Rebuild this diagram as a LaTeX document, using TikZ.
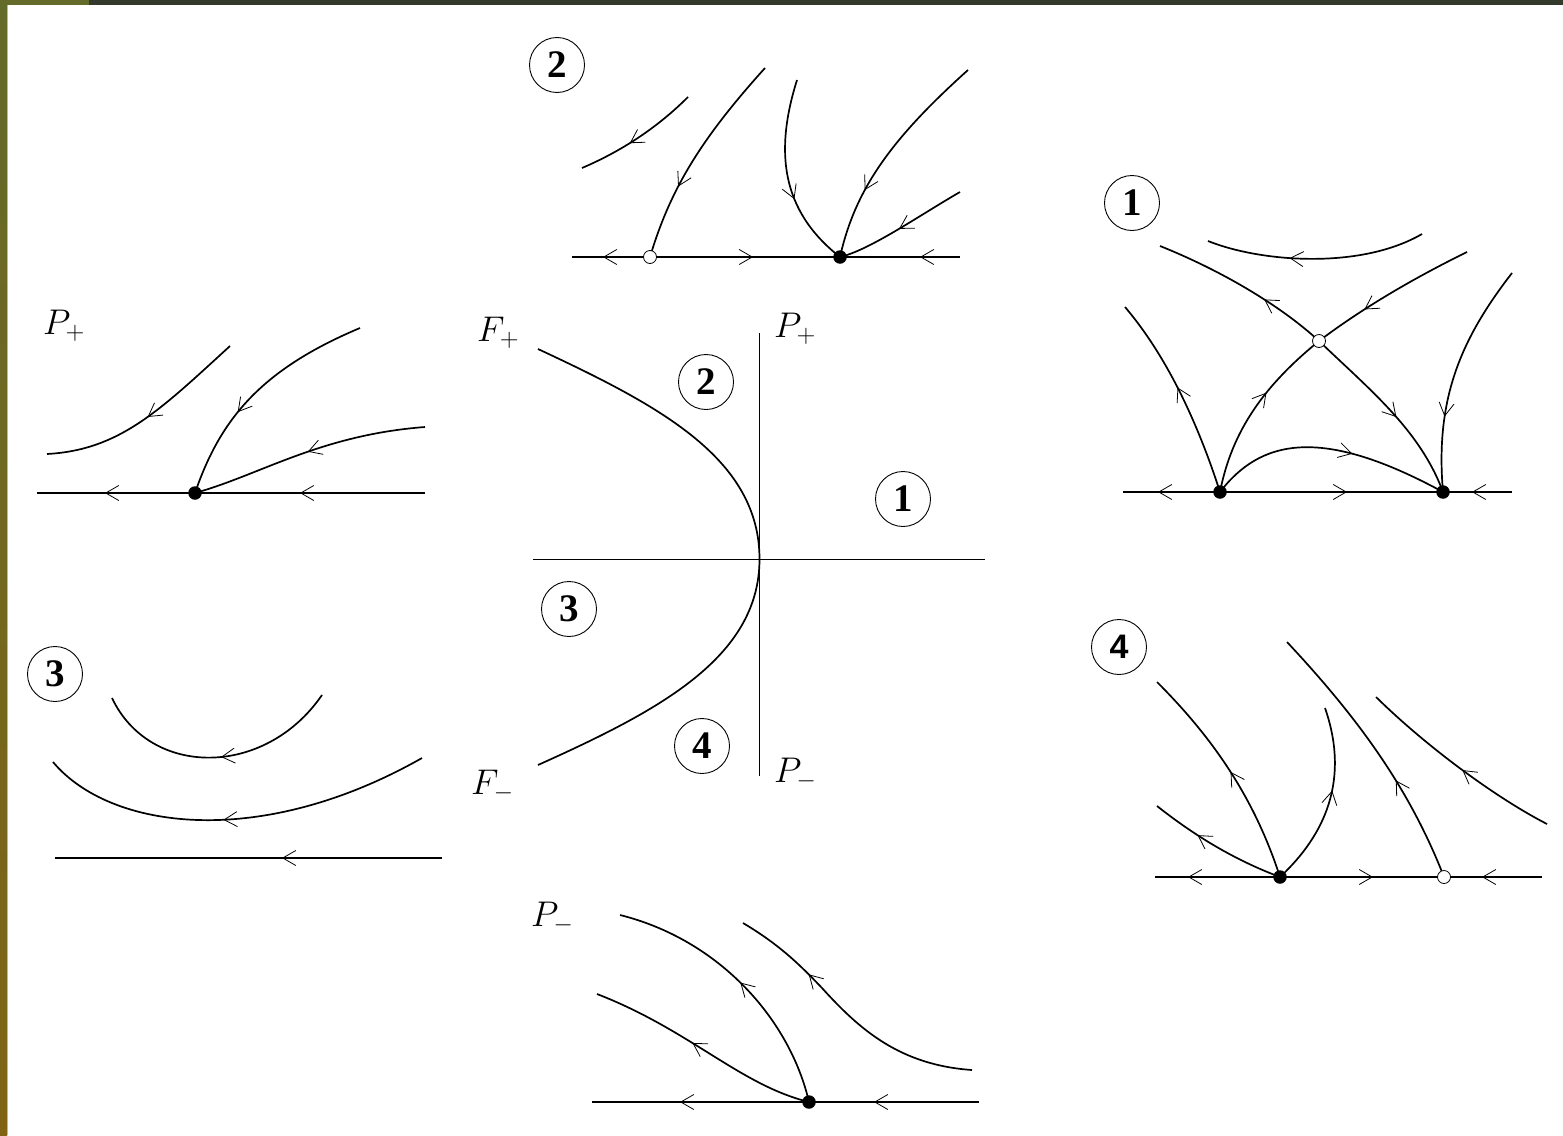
\RequirePackage{fix-cm}
\documentclass[tikz,border=0pt]{standalone}
\usepackage{fontspec}
\usepackage{graphicx}
\newfontfamily\numserif{Liberation Serif}
\newfontfamily\numsans{Liberation Sans}
\usetikzlibrary{arrows.meta,decorations.markings}
\definecolor{olivetop}{RGB}{100,106,42}
\definecolor{darkbar}{RGB}{52,58,43}
\definecolor{ochrebot}{RGB}{128,100,20}
\definecolor{edgelight}{RGB}{190,186,140}
\newcommand\chevF{\arrow{Straight Barb[length=13pt,width=15pt,line width=0.8pt]}}
\newcommand\chevB{\arrowreversed{Straight Barb[length=13pt,width=15pt,line width=0.8pt]}}
\newcommand\bigmath[1]{\scalebox{1.72}{\fontsize{20.74}{24}\selectfont$#1$}}
\tikzset{
  crv/.style={line width=1.7pt},
  hax/.style={line width=1pt},
  vax/.style={line width=1.4pt},
  fwdat/.style={postaction={decorate,decoration={markings,mark=at position #1 with {\chevF}}}},
  bwdat/.style={postaction={decorate,decoration={markings,mark=at position #1 with {\chevB}}}},
  bdot/.style={circle,fill=black,minimum size=13.5pt,inner sep=0pt},
  odot/.style={circle,fill=white,draw=black,line width=0.8pt,minimum size=13pt,inner sep=0pt},
  numlbl/.style={circle,draw,line width=0.9pt,minimum size=55pt,inner sep=0pt,font=\fontsize{39}{42}\selectfont\numserif\bfseries},
  numlbls/.style={circle,draw,line width=0.9pt,minimum size=55pt,inner sep=0pt,font=\fontsize{34}{36}\selectfont\numsans\bfseries},
  mlbl/.style={anchor=base west,inner sep=0pt},
}
\begin{document}
\begin{tikzpicture}[x=1pt,y=-1pt]
\useasboundingbox (0,0) rectangle (1563,1135);
\fill[white] (0,0) rectangle (1563,1135);
% frame
\fill[darkbar] (89,0) rectangle (1563,4.5);
\fill[olivetop] (0,0) rectangle (89,4.5);
\shade[top color=olivetop,bottom color=ochrebot] (0,0) rectangle (7,1135);
\fill[edgelight] (7,4.5) rectangle (7.8,1135);

% ===== centre diagram =====
\draw[hax] (533,559) -- (985,559);
\draw[vax] (759.5,333) -- (759.5,776);
\draw[crv] (538,349) .. controls (658,405) and (759.5,458) .. (759.5,559)
                     .. controls (759.5,658) and (658,711) .. (538,765);
\node[mlbl] (fp) at (477,341.5) {\bigmath{F_+}};
\node[mlbl] (fm) at (471,794) {\bigmath{F_-}};
\node[mlbl] (pp) at (774,337) {\bigmath{P_+}};
\node[mlbl] (pm) at (774,782) {\bigmath{P_-}};
\node[numlbl] (c2) at (706,382) {2};
\node[numlbl] (c1) at (903,499) {1};
\node[numlbl] (c3) at (569,609) {3};
\node[numlbl] (c4) at (702,746) {4};

% ===== panel 2 (top) =====
\node[numlbl] (t2) at (557,65) {2};
\coordinate (p2o) at (650,257);
\coordinate (p2f) at (840,257);
\draw[crv,postaction={decorate,decoration={markings,
   mark=at position 31pt with {\chevB},
   mark=at position 181pt with {\chevF},
   mark=at position 348pt with {\chevB}}}] (572,257) -- (960,257);
\draw[crv,bwdat=0.42] (582,168) .. controls (610,156) and (650,135) .. (688,97);
\draw[crv,bwdat=0.34] (p2o) .. controls (670,190) and (700,140) .. (765,68);
\draw[crv,fwdat=0.62] (797,80) .. controls (775,150) and (780,210) .. (p2f);
\draw[crv,bwdat=0.31] (p2f) .. controls (855,190) and (890,140) .. (968,70);
\draw[crv,bwdat=0.48] (p2f) .. controls (870,250) and (920,215) .. (960,192);
\node[odot] (n2o) at (p2o) {};
\node[bdot] (n2f) at (p2f) {};

% ===== panel P+ (left top) =====
\node[mlbl] (lpp) at (43,334) {\bigmath{P_+}};
\coordinate (ppd) at (195,493);
\draw[crv,postaction={decorate,decoration={markings,
   mark=at position 68pt with {\chevB},
   mark=at position 263pt with {\chevB}}}] (37,493) -- (425,493);
\draw[crv,bwdat=0.5] (47,454) .. controls (120,450) and (160,410) .. (230,346);
\draw[crv,bwdat=0.38] (ppd) .. controls (220,420) and (260,370) .. (360,328);
\draw[crv,bwdat=0.5] (ppd) .. controls (260,475) and (320,435) .. (425,427);
\node[bdot] (nppd) at (ppd) {};

% ===== panel 3 (left middle) =====
\node[numlbl] (t3) at (55,674) {3};
\draw[crv,postaction={decorate,decoration={markings,
   mark=at position 227pt with {\chevB}}}] (55,858) -- (442,858);
\draw[crv,bwdat=0.52] (112,698) .. controls (150,778) and (265,778) .. (322,695);
\draw[crv,bwdat=0.47] (53,762) .. controls (110,830) and (260,850) .. (422,758);

% ===== panel 1 (right top) =====
\node[numlbl] (t1) at (1132,203) {1};
\coordinate (q1) at (1220,492);
\coordinate (q2) at (1443,492);
\coordinate (qs) at (1319,341);
\draw[crv,postaction={decorate,decoration={markings,
   mark=at position 35pt with {\chevB},
   mark=at position 224pt with {\chevF},
   mark=at position 349pt with {\chevB}}}] (1123,492) -- (1512,492);
\draw[crv,bwdat=0.38] (1208,241) .. controls (1260,262) and (1360,270) .. (1422,234);
\draw[crv,fwdat=0.37] (qs) .. controls (1280,305) and (1220,270) .. (1160,246);
\draw[crv,fwdat=0.55] (qs) .. controls (1370,390) and (1420,430) .. (q2);
\draw[crv,fwdat=0.6] (q1) .. controls (1232,430) and (1265,385) .. (qs);
\draw[crv,bwdat=0.32] (qs) .. controls (1360,310) and (1410,280) .. (1467,252);
\draw[crv,fwdat=0.54] (q1) .. controls (1200,430) and (1170,360) .. (1125,307);
\draw[crv,fwdat=0.68] (1512,273) .. controls (1460,340) and (1435,400) .. (q2);
\draw[crv,fwdat=0.6] (q1) .. controls (1260,440) and (1320,425) .. (q2);
\node[bdot] (nq1) at (q1) {};
\node[bdot] (nq2) at (q2) {};
\node[odot] (nqs) at (qs) {};

% ===== panel 4 (right middle) =====
\node[numlbls] (t4) at (1119,647) {4};
\coordinate (r1) at (1280,877);
\coordinate (r2) at (1444,877);
\draw[crv,postaction={decorate,decoration={markings,
   mark=at position 33pt with {\chevB},
   mark=at position 218pt with {\chevF},
   mark=at position 327pt with {\chevB}}}] (1155,877) -- (1542,877);
\draw[crv,fwdat=0.65] (r1) .. controls (1240,862) and (1200,840) .. (1157,806);
\draw[crv,fwdat=0.5] (r1) .. controls (1255,800) and (1215,740) .. (1157,682);
\draw[crv,fwdat=0.55] (r1) .. controls (1325,835) and (1350,780) .. (1325,708);
\draw[crv,fwdat=0.38] (r2) .. controls (1410,790) and (1360,720) .. (1287,642);
\draw[crv,fwdat=0.47] (1547,824) .. controls (1500,800) and (1430,750) .. (1376,697);
\node[bdot] (nr1) at (r1) {};
\node[odot] (nr2) at (r2) {};

% ===== panel P- (bottom) =====
\node[mlbl] (lpm) at (531,926) {\bigmath{P_-}};
\coordinate (md) at (809,1102);
\draw[crv,postaction={decorate,decoration={markings,
   mark=at position 88pt with {\chevB},
   mark=at position 282pt with {\chevB}}}] (592,1102) -- (979,1102);
\draw[crv,fwdat=0.55] (md) .. controls (740,1085) and (690,1030) .. (597,994);
\draw[crv,fwdat=0.5] (md) .. controls (790,1020) and (720,940) .. (620,915);
\draw[crv,bwdat=0.3] (743,923) .. controls (780,945) and (800,965) .. (822,988)
                     .. controls (860,1030) and (900,1065) .. (972,1070);
\node[bdot] (nmd) at (md) {};
\end{tikzpicture}
\end{document}
